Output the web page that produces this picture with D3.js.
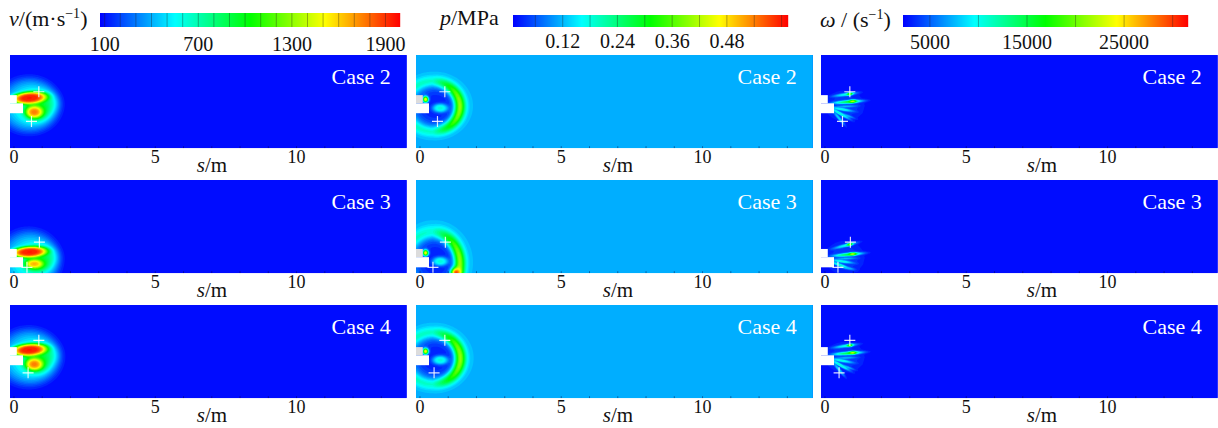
<!DOCTYPE html>
<html><head><meta charset="utf-8">
<script src="https://cdn.jsdelivr.net/npm/d3@7"></script>
<style>
body{margin:0;background:#fff}
svg{display:block}
svg text{font-family:"Liberation Serif","DejaVu Serif",serif;fill:#111}
</style>
</head><body>
<svg id="fig" width="1218" height="428" font-family="Liberation Serif, DejaVu Serif, serif"></svg>
<script>
// ---------------- data ----------------
const caseNames = ["Case 2", "Case 3", "Case 4"];
const distTicks = [0, 5, 10];
const minorTicks = [1, 2, 3, 4, 6, 7, 8, 9, 11, 12, 13];
const velTicks = [100, 700, 1300, 1900];
const presTicks = [0.12, 0.24, 0.36, 0.48];
const vortTicks = [5000, 15000, 25000];

// colour-bar value ranges and band steps
const velRange = [70, 1993];
const presRange = [0.011, 0.614];
const vortRange = [2230, 31580];
const velStep = 100, presStep = 0.06, vortStep = 5000;

// ambient values of each field
const velAmbient = 70, presAmbient = 0.115, vortAmbient = 2230;

// nozzle outline per case, [s0, s1, y0, y1] in metres
const nozzleLower = [[-0.14, 0.32, 1.24, 1.59], [-0.14, 0.32, 0.21, 0.57], [-0.14, 0.32, 1.17, 1.52]];
const nozzleUpper = [[-0.14, 0.10, 1.59, 1.88], [-0.14, 0.10, 0.57, 0.86], [-0.14, 0.10, 1.52, 1.81]];

// probe positions per case, [s, y] in metres
const probes = [
  [[0.88, 2.00], [0.62, 0.95]],
  [[0.90, 1.10], [0.46, 0.21]],
  [[0.88, 2.05], [0.50, 0.90]]
];

// flow structures, painted in order over the ambient value
// blob: ["b", s, y, rx, ry, value, angleDeg, flatness]
// ring: ["r", s, y, rx, ry, value, peakRadius, width, rightBias]
const velCase2 = [
  ["b", 0.50, 1.52, 1.12, 0.98, 330, 0, 3],
  ["b", 0.62, 1.52, 0.85, 0.78, 560, 0, 2],
  ["b", 0.90, 1.60, 0.55, 0.40, 850, 0, 1.5],
  ["b", 0.78, 1.30, 0.40, 0.30, 1150, 0, 1.2],
  ["b", 0.55, 1.78, 0.62, 0.21, 1950, 4, 2],
  ["b", 0.72, 1.28, 0.28, 0.20, 1750, 0, 1.5]
];
const velCase3 = [
  ["b", 0.50, 0.45, 1.12, 1.08, 330, 0, 3],
  ["b", 0.62, 0.45, 0.85, 0.85, 560, 0, 2],
  ["b", 0.90, 0.58, 0.55, 0.40, 850, 0, 1.5],
  ["b", 0.78, 0.32, 0.40, 0.25, 1150, 0, 1.2],
  ["b", 0.55, 0.75, 0.62, 0.19, 1950, 3, 2],
  ["b", 0.72, 0.33, 0.28, 0.14, 1650, 0, 1.5]
];
const velCase4 = [
  ["b", 0.50, 1.45, 1.15, 1.02, 330, 0, 3],
  ["b", 0.62, 1.45, 0.87, 0.80, 560, 0, 2],
  ["b", 0.90, 1.53, 0.55, 0.40, 850, 0, 1.5],
  ["b", 0.78, 1.22, 0.40, 0.30, 1150, 0, 1.2],
  ["b", 0.55, 1.71, 0.62, 0.21, 1950, 4, 2],
  ["b", 0.72, 1.20, 0.28, 0.20, 1750, 0, 1.5]
];

const presCase2 = [
  ["b", 0.50, 1.50, 1.22, 1.06, 0.16, 0, 3],
  ["b", 0.55, 1.48, 0.88, 0.80, 0.03, 0, 2],
  ["r", 0.45, 1.48, 1.15, 1.05, 0.40, 0.84, 0.16, 0.75],
  ["b", 0.72, 1.42, 0.28, 0.16, 0.18, 0, 1.5],
  ["b", 0.20, 1.73, 0.09, 0.10, 0.50, 0, 1]
];
const presCase3 = [
  ["b", 0.50, 0.40, 1.22, 1.30, 0.16, 0, 3],
  ["b", 0.55, 0.45, 0.88, 0.95, 0.03, 0, 2],
  ["r", 0.45, 0.35, 1.15, 1.30, 0.40, 0.84, 0.16, 0.75],
  ["b", 1.28, 0.02, 0.16, 0.16, 0.58, 0, 1],
  ["b", 0.72, 0.42, 0.28, 0.16, 0.18, 0, 1.5],
  ["b", 0.20, 0.72, 0.09, 0.10, 0.50, 0, 1]
];
const presCase4 = [
  ["b", 0.50, 1.43, 1.24, 1.09, 0.16, 0, 3],
  ["b", 0.55, 1.41, 0.90, 0.82, 0.03, 0, 2],
  ["r", 0.45, 1.41, 1.17, 1.08, 0.40, 0.84, 0.16, 0.75],
  ["b", 0.72, 1.35, 0.28, 0.16, 0.18, 0, 1.5],
  ["b", 0.20, 1.66, 0.09, 0.10, 0.50, 0, 1]
];

const vortCase2 = [
  ["b", 0.70, 1.50, 0.70, 0.55, 4000, 0, 1.5],
  ["b", 0.72, 1.90, 0.42, 0.05, 10000, 8, 1.2],
  ["b", 0.88, 1.92, 0.10, 0.035, 22000, 8, 1],
  ["b", 0.82, 1.64, 0.50, 0.05, 15000, 4, 1.2],
  ["b", 0.98, 1.66, 0.12, 0.04, 24000, 4, 1],
  ["b", 0.60, 1.38, 0.38, 0.045, 11000, -10, 1.2],
  ["b", 0.55, 1.22, 0.36, 0.045, 12000, -30, 1.2],
  ["b", 0.50, 1.06, 0.30, 0.045, 9000, -50, 1.2],
  ["b", 0.80, 1.15, 0.25, 0.035, 8000, -20, 1.2],
  ["b", 0.75, 1.48, 0.35, 0.035, 8000, 2, 1.2]
];
const vortCase3 = [
  ["b", 0.70, 0.55, 0.70, 0.60, 4000, 0, 1.5],
  ["b", 0.72, 0.98, 0.42, 0.05, 10000, 14, 1.2],
  ["b", 0.88, 1.02, 0.10, 0.035, 22000, 14, 1],
  ["b", 0.82, 0.66, 0.50, 0.05, 15000, 5, 1.2],
  ["b", 0.98, 0.68, 0.12, 0.04, 24000, 5, 1],
  ["b", 0.60, 0.42, 0.38, 0.045, 11000, -8, 1.2],
  ["b", 0.55, 0.28, 0.36, 0.045, 12000, -20, 1.2],
  ["b", 0.80, 0.18, 0.25, 0.035, 8000, -8, 1.2],
  ["b", 0.75, 0.52, 0.35, 0.035, 8000, 2, 1.2]
];
const vortCase4 = [
  ["b", 0.70, 1.45, 0.70, 0.55, 4000, 0, 1.5],
  ["b", 0.72, 1.85, 0.42, 0.05, 10000, 8, 1.2],
  ["b", 0.88, 1.87, 0.10, 0.035, 22000, 8, 1],
  ["b", 0.82, 1.59, 0.50, 0.05, 15000, 4, 1.2],
  ["b", 0.98, 1.61, 0.12, 0.04, 24000, 4, 1],
  ["b", 0.60, 1.33, 0.38, 0.045, 11000, -10, 1.2],
  ["b", 0.55, 1.17, 0.36, 0.045, 12000, -30, 1.2],
  ["b", 0.50, 1.01, 0.30, 0.045, 9000, -50, 1.2],
  ["b", 0.80, 1.10, 0.25, 0.035, 8000, -20, 1.2],
  ["b", 0.75, 1.43, 0.35, 0.035, 8000, 2, 1.2]
];

// ---------------- layout ----------------
const svg = d3.select("#fig");
const colLeft = [10, 416, 821];
const rowTop = [55, 180, 305];
const sDomain = [-0.14, 13.9];
const yDomain = [0, 3.3];
const pxPerM = 28.26;
const panelW = (sDomain[1] - sDomain[0]) * pxPerM;
const panelH = (yDomain[1] - yDomain[0]) * pxPerM;

const rainbow = d3.scaleLinear()
  .domain([0, 0.25, 0.5, 0.75, 1])
  .range(["#0000ff", "#00ffff", "#00ff00", "#ffff00", "#ff0000"])
  .clamp(true);

const variables = [
  {range: velRange, ticks: velTicks, step: velStep, ambient: velAmbient,
   fields: [velCase2, velCase3, velCase4], fmt: d3.format("d"),
   bar: [100, 400, 13, 27], tickBase: 51},
  {range: presRange, ticks: presTicks, step: presStep, ambient: presAmbient,
   fields: [presCase2, presCase3, presCase4], fmt: d3.format(".2f"),
   bar: [513, 788, 15, 27], tickBase: 48},
  {range: vortRange, ticks: vortTicks, step: vortStep, ambient: vortAmbient,
   fields: [vortCase2, vortCase3, vortCase4], fmt: d3.format("d"),
   bar: [903, 1188, 15, 27], tickBase: 49}
];

// ---------------- field evaluation ----------------
function evalField(features, ambient, s, y) {
  let f = ambient;
  for (const ft of features) {
    const [kind, cs, cy, rx, ry, val] = ft;
    const dx = s - cs, dy = y - cy;
    let g;
    if (kind === "b") {
      const a = ft[6] * Math.PI / 180, p = ft[7];
      const u = (dx * Math.cos(a) + dy * Math.sin(a)) / rx;
      const v = (-dx * Math.sin(a) + dy * Math.cos(a)) / ry;
      g = Math.exp(-Math.pow(u * u + v * v, p));
    } else {
      const r0 = ft[6], w = ft[7], bias = ft[8];
      const u = dx / rx, v = dy / ry, r = Math.hypot(u, v);
      const c = r > 0 ? u / r : 0;
      g = Math.exp(-Math.pow((r - r0) / w, 2)) * ((1 - bias) + bias * Math.max(0, c));
    }
    f += (val - f) * g;
  }
  return f;
}

// ---------------- colour bars ----------------
variables.forEach(vr => {
  const [x0, x1, y0, y1] = vr.bar;
  const bx = d3.scaleLinear().domain(vr.range).range([x0, x1]);
  const norm = d3.scaleLinear().domain(vr.range).range([0, 1]);
  const g = svg.append("g");
  g.selectAll("rect").data(d3.range(Math.round(x1 - x0))).join("rect")
    .attr("x", d => x0 + d).attr("y", y0).attr("width", 1.2).attr("height", y1 - y0)
    .attr("fill", d => rainbow(norm(bx.invert(x0 + d + 0.5))));
  const seps = d3.range(Math.ceil(vr.range[0] / vr.step) * vr.step, vr.range[1], vr.step)
    .filter(v => bx(v) > x0 + 2);
  g.selectAll("line").data(seps).join("line")
    .attr("x1", d => bx(d)).attr("x2", d => bx(d)).attr("y1", y0).attr("y2", y1)
    .attr("stroke", "rgba(30,30,30,0.45)").attr("stroke-width", 0.8);
  g.selectAll("text").data(vr.ticks).join("text")
    .attr("x", d => bx(d)).attr("y", vr.tickBase)
    .attr("text-anchor", "middle").attr("font-size", 20)
    .text(vr.fmt);
});

// colour-bar titles
const t1 = svg.append("text").attr("x", 9).attr("y", 26).attr("font-size", 22);
t1.append("tspan").attr("font-style", "italic").text("v");
t1.append("tspan").text("/(m·s");
t1.append("tspan").attr("font-size", 14).attr("dy", -8).text("−1");
t1.append("tspan").attr("dy", 8).text(")");

const t2 = svg.append("text").attr("x", 440).attr("y", 25).attr("font-size", 22);
t2.append("tspan").attr("font-style", "italic").text("p");
t2.append("tspan").text("/MPa");

const t3 = svg.append("text").attr("x", 820).attr("y", 27).attr("font-size", 22);
t3.append("tspan").attr("font-style", "italic").text("ω");
t3.append("tspan").text(" / (s");
t3.append("tspan").attr("font-size", 14).attr("dy", -8).text("−1");
t3.append("tspan").attr("dy", 8).text(")");

// ---------------- panels ----------------
const nx = Math.round(panelW), ny = Math.round(panelH);
const sLimit = 4.0; // structures are confined near the nozzle

variables.forEach((vr, ci) => {
  const norm = d3.scaleLinear().domain(vr.range).range([0, 1]);
  const N = 44;
  const thresholds = d3.range(N).map(k => vr.range[0] + k * (vr.range[1] - vr.range[0]) / N);
  const bandStep = (vr.range[1] - vr.range[0]) / N;

  caseNames.forEach((name, ri) => {
    const x0 = colLeft[ci], y0 = rowTop[ri];
    const xs = d3.scaleLinear().domain(sDomain).range([x0, x0 + panelW]);
    const ys = d3.scaleLinear().domain(yDomain).range([y0 + panelH, y0]);
    const features = vr.fields[ri];

    const values = new Float64Array(nx * ny);
    for (let j = 0; j < ny; j++) {
      const y = ys.invert(y0 + j + 0.5);
      for (let i = 0; i < nx; i++) {
        const s = xs.invert(x0 + i + 0.5);
        values[j * nx + i] = s > sLimit ? vr.ambient : evalField(features, vr.ambient, s, y);
      }
    }
    const contours = d3.contours().size([nx, ny]).thresholds(thresholds)(values);

    const clipId = `clip-${ci}-${ri}`;
    svg.append("clipPath").attr("id", clipId).append("rect")
      .attr("x", x0).attr("y", y0).attr("width", panelW).attr("height", panelH);

    const pg = svg.append("g").attr("clip-path", `url(#${clipId})`);
    pg.append("rect").attr("x", x0).attr("y", y0).attr("width", panelW).attr("height", panelH)
      .attr("fill", rainbow(norm(vr.ambient)));
    const path = d3.geoPath(d3.geoIdentity().scale(panelW / nx).translate([x0, y0]));
    pg.selectAll("path.band").data(contours).join("path").attr("class", "band")
      .attr("d", path)
      .attr("fill", d => rainbow(norm(d.value + bandStep / 2)));

    // nozzle
    const nozzleFill = ci === 1 ? "#dcdcdc" : "#ffffff";
    pg.append("rect")
      .attr("x", xs(nozzleLower[ri][0])).attr("width", xs(nozzleLower[ri][1]) - xs(nozzleLower[ri][0]))
      .attr("y", ys(nozzleLower[ri][3])).attr("height", ys(nozzleLower[ri][2]) - ys(nozzleLower[ri][3]))
      .attr("fill", "#ffffff");
    pg.append("rect")
      .attr("x", xs(nozzleUpper[ri][0])).attr("width", xs(nozzleUpper[ri][1]) - xs(nozzleUpper[ri][0]))
      .attr("y", ys(nozzleUpper[ri][3])).attr("height", ys(nozzleUpper[ri][2]) - ys(nozzleUpper[ri][3]))
      .attr("fill", nozzleFill);

    // probe crosses
    const cg = pg.append("g").attr("stroke", "rgba(255,255,255,0.85)").attr("stroke-width", 1.2);
    probes[ri].forEach(([s, y]) => {
      cg.append("line").attr("x1", xs(s) - 5.5).attr("x2", xs(s) + 5.5).attr("y1", ys(y)).attr("y2", ys(y));
      cg.append("line").attr("x1", xs(s)).attr("x2", xs(s)).attr("y1", ys(y) - 5.5).attr("y2", ys(y) + 5.5);
    });

    // minor ticks along the lower wall
    pg.selectAll("line.minor").data(minorTicks.concat(distTicks)).join("line").attr("class", "minor")
      .attr("x1", d => xs(d)).attr("x2", d => xs(d))
      .attr("y1", y0 + panelH - 2).attr("y2", y0 + panelH)
      .attr("stroke", "rgba(0,0,60,0.45)").attr("stroke-width", 1);

    // case label
    svg.append("text").attr("x", x0 + panelW - 16).attr("y", y0 + 29)
      .attr("text-anchor", "end").attr("font-size", 22).style("fill", "#ffffff")
      .text(name);

    // distance labels
    svg.append("g").selectAll("text").data(distTicks).join("text")
      .attr("x", d => xs(d)).attr("y", y0 + panelH + 15)
      .attr("text-anchor", "middle").attr("font-size", 18)
      .text(d => d);

    const sl = svg.append("text").attr("x", ci === 2 ? x0 + 221 : x0 + 202)
      .attr("y", y0 + panelH + 24).attr("text-anchor", "middle").attr("font-size", 21);
    sl.append("tspan").attr("font-style", "italic").text("s");
    sl.append("tspan").text("/m");
  });
});
</script>
</body></html>
